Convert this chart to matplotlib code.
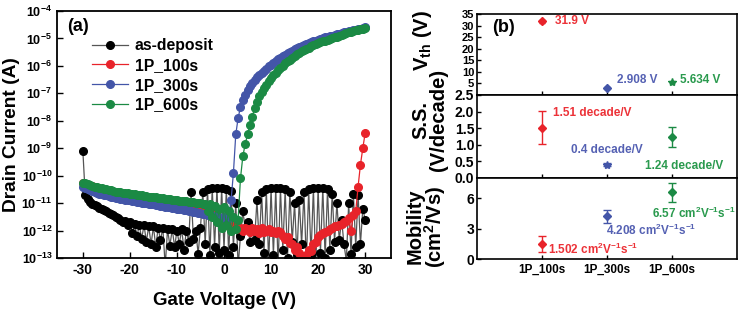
import numpy as np
import matplotlib
matplotlib.use("Agg")
import matplotlib.pyplot as plt

plt.rcParams['font.family'] = ['Liberation Sans', 'DejaVu Sans']
plt.rcParams['font.weight'] = 'bold'
plt.rcParams['axes.labelweight'] = 'bold'
plt.rcParams['mathtext.fontset'] = 'custom'
plt.rcParams['mathtext.rm'] = 'Liberation Sans:bold'
plt.rcParams['mathtext.bf'] = 'Liberation Sans:bold'
plt.rcParams['mathtext.it'] = 'Liberation Sans:bold'
plt.rcParams['mathtext.default'] = 'rm'

# ---------------- data: panel (a) ----------------
gate_voltage = np.arange(-30, 30.01, 0.5)

log_as_deposit = [
    -9.1, -10.7, -10.85, -10.95, -11.02, -11.08, -11.12, -11.17, -11.2, -11.25,
    -11.28, -11.35, -11.38, -11.45, -11.5, -11.55, -11.6, -11.7, -11.65, -11.8,
    -11.7, -12.1, -11.75, -12.2, -11.8, -12.3, -11.8, -12.4, -11.85, -12.5,
    -11.85, -12.6, -11.9, -12.35, -11.9, -13.3, -11.95, -12.55, -11.95, -12.6,
    -12.0, -12.5, -11.95, -12.7, -12.0, -12.4, -10.6, -12.3, -12.0, -12.85,
    -11.9, -10.6, -12.5, -10.5, -12.9, -10.45, -12.6, -10.45, -12.8, -10.45,
    -12.7, -10.5, -12.9, -10.55, -12.6, -11.0, -13.3, -12.2, -11.3, -11.9,
    -11.7, -12.4, -12.0, -12.35, -10.9, -12.5, -10.6, -12.8, -10.5, -13.2,
    -10.45, -12.9, -10.45, -13.3, -10.45, -12.7, -10.5, -13.0, -10.6, -12.4,
    -11.0, -12.9, -10.9, -12.5, -10.6, -13.2, -10.5, -12.9, -10.45, -13.3,
    -10.45, -12.8, -10.45, -13.0, -10.5, -12.7, -10.65, -12.4, -11.0, -12.35,
    -11.6, -12.5, -13.1, -11.0, -12.85, -10.65, -12.6, -10.7, -12.5, -11.2,
    -11.6,
]

log_1p_100s = [
    -10.27, -10.3, -10.33, -10.36, -10.39, -10.42, -10.45, -10.47, -10.49, -10.51,
    -10.53, -10.55, -10.57, -10.59, -10.61, -10.63, -10.65, -10.67, -10.69, -10.71,
    -10.72, -10.74, -10.76, -10.78, -10.79, -10.8, -10.82, -10.84, -10.85, -10.87,
    -10.88, -10.9, -10.91, -10.92, -10.93, -10.95, -10.96, -10.97, -10.98, -10.99,
    -11.0, -11.01, -11.02, -11.03, -11.04, -11.05, -11.06, -11.07, -11.08, -11.09,
    -11.1, -11.12, -11.15, -11.2, -11.25, -11.3, -11.4, -11.5, -11.6, -11.7,
    -11.75, -11.8, -11.85, -11.8, -11.9, -11.95, -11.85, -11.9, -12.0, -11.9,
    -11.95, -12.05, -11.9, -12.0, -11.95, -12.1, -11.9, -12.05, -12.0, -11.95,
    -12.05, -12.0, -12.1, -12.0, -12.05, -12.2, -12.3, -12.25, -12.45, -12.5,
    -12.7, -12.6, -12.8, -12.95, -13.05, -12.9, -12.7, -12.75, -12.5, -12.4,
    -12.25, -12.15, -12.1, -12.05, -12.0, -11.95, -11.9, -11.85, -11.82, -11.8,
    -11.75, -11.7, -11.65, -11.55, -12.0, -11.45, -11.3, -10.4, -9.6, -9.0,
    -8.45,
]

log_1p_300s = [
    -10.42, -10.46, -10.5, -10.53, -10.56, -10.59, -10.62, -10.65, -10.68, -10.7,
    -10.72, -10.74, -10.76, -10.78, -10.8, -10.82, -10.84, -10.86, -10.88, -10.89,
    -10.9, -10.92, -10.93, -10.95, -10.96, -10.98, -10.99, -11.01, -11.02, -11.04,
    -11.05, -11.07, -11.08, -11.1, -11.11, -11.13, -11.14, -11.16, -11.17, -11.19,
    -11.2, -11.22, -11.23, -11.25, -11.26, -11.28, -11.3, -11.32, -11.33, -11.35,
    -11.37, -11.39, -11.4, -11.42, -11.44, -11.46, -11.48, -11.5, -11.52, -11.55,
    -11.5, -11.55, -11.55, -10.9, -9.9, -8.5, -7.9, -7.5, -7.25, -7.05,
    -6.88, -6.74, -6.62, -6.52, -6.42, -6.33, -6.25, -6.17, -6.1, -6.02,
    -5.95, -5.88, -5.82, -5.76, -5.7, -5.64, -5.59, -5.54, -5.49, -5.44,
    -5.4, -5.36, -5.32, -5.28, -5.24, -5.2, -5.17, -5.14, -5.11, -5.08,
    -5.05, -5.02, -4.99, -4.96, -4.94, -4.92, -4.9, -4.87, -4.85, -4.83,
    -4.8, -4.78, -4.76, -4.74, -4.72, -4.7, -4.68, -4.66, -4.64, -4.62,
    -4.6,
]

log_1p_600s = [
    -10.25, -10.28, -10.31, -10.34, -10.37, -10.4, -10.42, -10.44, -10.46, -10.48,
    -10.5, -10.52, -10.54, -10.56, -10.58, -10.6, -10.61, -10.62, -10.63, -10.64,
    -10.65, -10.67, -10.68, -10.7, -10.71, -10.72, -10.74, -10.75, -10.76, -10.77,
    -10.78, -10.79, -10.8, -10.82, -10.83, -10.84, -10.85, -10.86, -10.88, -10.89,
    -10.9, -10.91, -10.92, -10.93, -10.94, -10.95, -10.96, -10.97, -10.98, -10.99,
    -11.0, -11.05, -11.02, -11.3, -11.05, -11.5, -11.1, -11.7, -11.2, -11.9,
    -11.15, -11.8, -11.3, -12.0, -11.5, -11.95, -11.6, -10.1, -9.3, -8.85,
    -8.5, -8.15, -7.85, -7.55, -7.3, -7.1, -6.95, -6.8, -6.68, -6.56,
    -6.45, -6.35, -6.25, -6.16, -6.07, -5.99, -5.91, -5.84, -5.77, -5.7,
    -5.64, -5.58, -5.52, -5.47, -5.42, -5.37, -5.33, -5.29, -5.25, -5.21,
    -5.18, -5.14, -5.11, -5.08, -5.05, -5.02, -4.99, -4.96, -4.93, -4.9,
    -4.87, -4.84, -4.81, -4.78, -4.75, -4.73, -4.71, -4.69, -4.67, -4.65,
    -4.63,
]

# ---------------- data: panel (b) ----------------
samples = ['1P_100s', '1P_300s', '1P_600s']
vth = [31.9, 2.908, 5.634]
vth_err = [0.6, 0.5, 0.5]
ss = [1.51, 0.4, 1.24]
ss_err = [0.5, 0.05, 0.3]
mobility = [1.502, 4.208, 6.57]
mobility_err = [0.8, 0.65, 0.95]

red = '#e8232a'
blue = '#4355a8'
green = '#1b8a44'
colors = [red, blue, green]
text_colors = ['#ec3238', '#5561b3', '#2a9a4e']

fig = plt.figure(figsize=(7.41, 3.18), dpi=100)

# ---------------- panel (a) ----------------
ax = fig.add_axes([0.0769, 0.1887, 0.4508, 0.7767])
series = [
    ('as-deposit', log_as_deposit, 'black', '#555555'),
    ('1P_100s', log_1p_100s, red, red),
    ('1P_300s', log_1p_300s, blue, blue),
    ('1P_600s', log_1p_600s, green, green),
]
for name, vals, mc, lc in series:
    ax.plot(gate_voltage, 10.0 ** np.array(vals), '-o', color=lc, lw=0.9,
            markersize=5.5, markerfacecolor=mc, markeredgecolor=mc,
            label=name, clip_on=True)

ax.set_yscale('log')
ax.set_ylim(1e-13, 1e-4)
ax.set_xlim(-35.5, 35.5)
ax.set_yticks([10.0 ** k for k in range(-13, -3)])
ax.set_yticklabels([r'10$^{%d}$' % k for k in range(-13, -3)], fontsize=9)
ax.yaxis.set_minor_locator(matplotlib.ticker.NullLocator())
ax.set_xticks([-30, -20, -10, 0, 10, 20, 30])
ax.set_xticklabels(['-30', '-20', '-10', '0', '10', '20', '30'], fontsize=10)
ax.tick_params(direction='in', length=4, width=1.0, top=False, right=False)
ax.set_xlabel('Gate Voltage (V)', fontsize=13.5, labelpad=11)
ax.set_ylabel('Drain Current (A)', fontsize=13.8, labelpad=1)
for s in ax.spines.values():
    s.set_linewidth(1.3)
ax.text(0.03, 0.92, '(a)', transform=ax.transAxes, fontsize=13, weight='bold')
leg = ax.legend(loc='upper left', bbox_to_anchor=(0.085, 0.915), frameon=False,
                fontsize=11.3, handlelength=2.3, handletextpad=0.45,
                labelspacing=0.3, borderaxespad=0)

# ---------------- panel (b) ----------------
left_b, width_b = 0.6437, 0.3509
ax1 = fig.add_axes([left_b, 0.7013, width_b, 0.2547])
ax2 = fig.add_axes([left_b, 0.4403, width_b, 0.2610])
ax3 = fig.add_axes([left_b, 0.1855, width_b, 0.2548])
xpos = [1, 2, 3]

vth_markers = ['D', 'D', '*']
ss_markers = ['D', '*', 'D']
mob_markers = ['D', 'D', 'D']
for i in range(3):
    ax1.errorbar(xpos[i], vth[i], yerr=vth_err[i], fmt=vth_markers[i], color=colors[i],
                 markersize=4 if vth_markers[i] == 'D' else 6, capsize=2, lw=1)
    ax2.errorbar(xpos[i], ss[i], yerr=ss_err[i], fmt=ss_markers[i], color=colors[i],
                 markersize=4 if ss_markers[i] == 'D' else 6, capsize=3, lw=1)
    ax3.errorbar(xpos[i], mobility[i], yerr=mobility_err[i], fmt=mob_markers[i], color=colors[i],
                 markersize=4, capsize=3, lw=1)

for a in (ax1, ax2, ax3):
    a.set_xlim(0, 4)
    a.set_xticks(xpos)
    a.tick_params(direction='in', length=3, width=1.0)
    for s in a.spines.values():
        s.set_linewidth(1.2)
ax1.set_xticklabels([])
ax2.set_xticklabels([])
ax3.set_xticklabels(samples, fontsize=8.5)

ax1.set_ylim(0, 35)
ax1.set_yticks([0, 5, 10, 15, 20, 25, 30, 35])
ax1.set_yticklabels(['', '5', '10', '15', '20', '25', '30', '35'], fontsize=8)
ax1.tick_params(axis='y', pad=2)
ax2.set_ylim(0, 2.5)
ax2.set_yticks([0.0, 0.5, 1.0, 1.5, 2.0, 2.5])
ax2.set_yticklabels(['0.0', '0.5', '1.0', '1.5', '2.0', '2.5'], fontsize=10)
ax2.tick_params(axis='y', pad=2)
ax3.set_ylim(0, 8)
ax3.set_yticks([0, 3, 6])
ax3.set_yticklabels(['0', '3', '6'], fontsize=10)
ax3.tick_params(axis='y', pad=2)

ax1.set_ylabel(r'V$_{th}$ (V)', fontsize=14.5)
ax2.set_ylabel('S.S.\n(V/decade)', fontsize=14.5, linespacing=0.9)
ax3.set_ylabel('Mobility\n(cm$^2$/Vs)', fontsize=14.5, linespacing=0.9)
ax1.yaxis.set_label_coords(-0.165, 0.67)
ax2.yaxis.set_label_coords(-0.11, 0.7)
ax3.yaxis.set_label_coords(-0.11, 0.4)

ax1.text(0.06, 0.78, '(b)', transform=ax1.transAxes, fontsize=13, weight='bold')

ax1.text(1.2, vth[0], '31.9 V', color=text_colors[0], fontsize=8.5, va='center')
ax1.text(2.15, 6.5, '2.908 V', color=text_colors[1], fontsize=8.5, va='center')
ax1.text(3.12, 6.5, '5.634 V', color=text_colors[2], fontsize=8.5, va='center')

ax2.text(1.17, 1.96, '1.51 decade/V', color=text_colors[0], fontsize=8.5, va='center')
ax2.text(2.0, 0.83, '0.4 decade/V', color=text_colors[1], fontsize=8.5, va='center', ha='center')
ax2.text(2.58, 0.37, '1.24 decade/V', color=text_colors[2], fontsize=8.5, va='center')

ax3.text(1.09, 0.9, r'1.502 cm$^2$V$^{-1}$s$^{-1}$', color=text_colors[0], fontsize=8.5, va='center')
ax3.text(1.98, 2.8, r'4.208 cm$^2$V$^{-1}$s$^{-1}$', color=text_colors[1], fontsize=8.5, va='center')
ax3.text(2.7, 4.5, r'6.57 cm$^2$V$^{-1}$s$^{-1}$', color=text_colors[2], fontsize=8.5, va='center')

fig.savefig('out.png', dpi=100)
